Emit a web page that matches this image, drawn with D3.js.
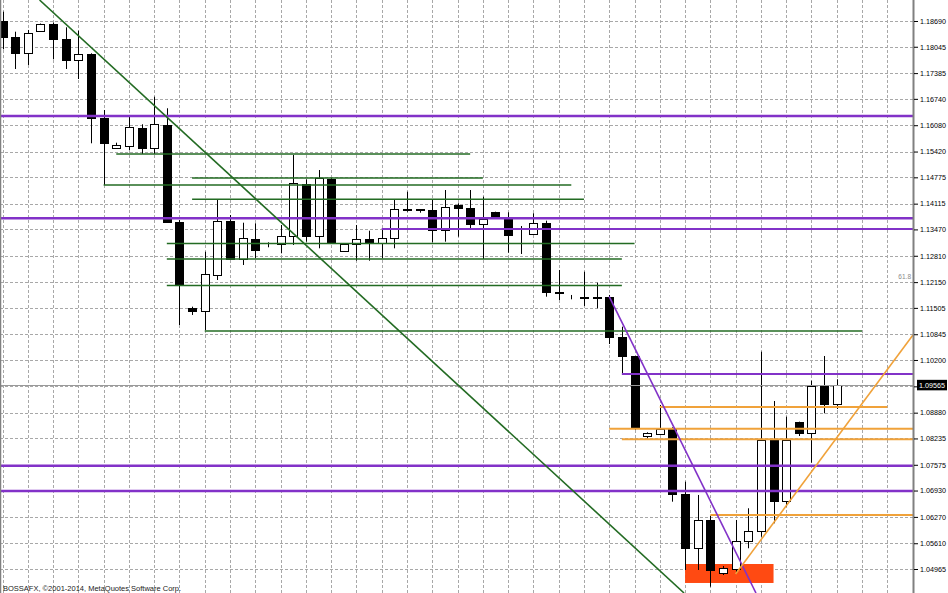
<!DOCTYPE html>
<html><head><meta charset="utf-8">
<script src="https://cdn.jsdelivr.net/npm/d3@7"></script>
<style>html,body{margin:0;padding:0;background:#fff;overflow:hidden}svg{display:block}</style>
</head><body>
<svg id="c" width="948" height="593"></svg>
<script>
// ---- data (daily candles) ----
const openP = [1.18698,1.18282,1.17881,1.18447,1.18607,1.18247,1.17713,1.17856,1.16253,1.15502,
1.15567,1.16018,1.15517,1.16085,1.13663,1.11495,1.11434,1.12329,1.13681,1.12729,
1.13230,1.13080,1.13105,1.13313,1.14600,1.13313,1.14733,1.12930,1.13097,1.13223,
1.13123,1.13263,1.13974,1.13974,1.13956,1.13456,1.14082,1.13999,1.13598,1.13914,
1.13774,1.13355,1.13355,1.13623,1.11910,1.11770,1.11770,1.11770,1.11785,1.10783,
1.10300,1.08304,1.08346,1.08464,1.06844,1.05484,1.06193,1.04873,1.04958,1.05674,
1.05917,1.08196,1.06668,1.08655,1.08379,1.09556,1.09098];
const highP = [1.18923,1.18422,1.18465,1.18627,1.18647,1.18532,1.18447,1.17881,1.16461,1.15642,
1.16336,1.16103,1.16794,1.16504,1.13706,1.11535,1.12912,1.14224,1.13831,1.13638,
1.13623,1.13148,1.13581,1.15334,1.14725,1.14958,1.14765,1.13097,1.13581,1.13438,
1.13498,1.14207,1.14415,1.13974,1.14207,1.14457,1.14124,1.14457,1.14290,1.13914,
1.13899,1.13556,1.13874,1.13689,1.12454,1.11828,1.12411,1.12136,1.11828,1.11034,
1.10300,1.08389,1.09073,1.08514,1.07152,1.06819,1.06293,1.05040,1.06193,1.06486,
1.10408,1.09173,1.08780,1.08655,1.09681,1.10300,1.09716];
const lowP = [1.17981,1.17488,1.17588,1.18440,1.17731,1.17488,1.17237,1.15627,1.14583,1.15484,
1.15459,1.15359,1.15359,1.13643,1.11076,1.11327,1.10951,1.12203,1.12717,1.12579,
1.12747,1.13022,1.12872,1.13080,1.13163,1.12997,1.13123,1.12930,1.12687,1.12687,
1.12747,1.12997,1.13914,1.13889,1.13148,1.13163,1.13288,1.13481,1.12729,1.13764,
1.12887,1.12855,1.13330,1.11785,1.11702,1.11720,1.11552,1.11495,1.10600,1.09867,
1.08447,1.08239,1.08334,1.06651,1.04940,1.04940,1.04522,1.04815,1.04858,1.05484,
1.05774,1.06110,1.06526,1.08296,1.07628,1.08865,1.08973];
const closeP = [1.18282,1.17881,1.18382,1.18615,1.18247,1.17713,1.17856,1.16253,1.15642,1.15584,
1.16028,1.15517,1.16103,1.13663,1.12078,1.11434,1.12346,1.13681,1.12729,1.13263,
1.12955,1.13068,1.13313,1.14640,1.13313,1.14750,1.13163,1.13097,1.13223,1.13138,
1.13263,1.13974,1.13967,1.13956,1.13456,1.14039,1.13999,1.13598,1.13731,1.13764,
1.13330,1.13343,1.13623,1.11910,1.11870,1.11765,1.11763,1.11763,1.10783,1.10300,
1.08489,1.08364,1.08464,1.06844,1.05484,1.06193,1.04940,1.04983,1.05674,1.05917,
1.08196,1.06668,1.08196,1.08379,1.09556,1.09098,1.09565];

const tickValues = [1.18690,1.18045,1.17385,1.16740,1.16080,1.15420,1.14775,1.14115,1.13470,1.12810,
1.12150,1.11505,1.10845,1.10200,1.09540,1.08880,1.08235,1.07575,1.06930,1.06270,1.05610,1.04965];
const gridValues = tickValues.concat([1.04305]);
const currentPrice = 1.09565;
const fibLabel = "61.8";
const fibPrice = 1.12150;

// horizontal levels: [fromBar, toBar (null = right edge), price]
const purpleFull = [1.16311, 1.13749, 1.07552, 1.06919];
const purplePartial = [[30, null, 1.13481], [49, null, 1.09849]];
const greenLevels = [[9,37,1.15359],[15,38,1.14758],[8,45,1.14583],[15,46,1.14224],
                     [13,50,1.13117],[13,49,1.12729],[13,49,1.12066],[16,68,1.10926]];
const orangeLevels = [[52,70,1.09023],[48,null,1.08479],[49,null,1.08214],[56,null,1.06318]];
// trend lines: [[bar, price],[bar, price]]
const greenTrend = [[2.93, 1.19216],[53.92, 1.04364]];
const purpleTrend = [[48, 1.11785],[59.61, 1.04364]];
const orangeTrend = [[58, 1.04840],[72.03, 1.10826]];
// rectangle zone: [fromBar, toBar, priceTop, priceBottom]
const zone = [54, 61, 1.05090, 1.04615];
const footer = "BOSSAFX, \u00A92001-2014, MetaQuotes Software Corp.";

// ---- drawing ----
const W = 948, H = 593, plotRight = 913;
const svg = d3.select('#c');
const x = d3.scaleLinear().domain([0, 72]).range([2.5, 2.5 + 12.64 * 72]);
const y = d3.scaleLinear().domain([1.18690, 1.04965]).range([21, 569]);
const px = v => Math.round(v) + 0.5;
const bars = d3.range(openP.length).map(i => ({i, o: openP[i], h: highP[i], l: lowP[i], c: closeP[i]}));

// grid
const grid = svg.append('g');
grid.selectAll('line.h').data(gridValues).join('line').attr('class','h')
  .attr('x1', 0).attr('x2', plotRight)
  .attr('y1', d => px(y(d))).attr('y2', d => px(y(d)))
  .attr('stroke', '#a8a8a8').attr('stroke-dasharray', '3,2');
grid.selectAll('line.v').data(d3.range(0, 72, 2)).join('line').attr('class','v')
  .attr('x1', d => px(x(d))).attr('x2', d => px(x(d)))
  .attr('y1', 0).attr('y2', H)
  .attr('stroke', '#a8a8a8').attr('stroke-dasharray', '3,2');

// zone rectangle (background object)
svg.append('rect')
  .attr('x', x(zone[0])).attr('width', x(zone[1]) - x(zone[0]))
  .attr('y', y(zone[2])).attr('height', y(zone[3]) - y(zone[2]))
  .attr('fill', '#ff4a12');

// candles
const cg = svg.append('g');
cg.selectAll('line.w').data(bars).join('line').attr('class','w')
  .attr('x1', d => px(x(d.i))).attr('x2', d => px(x(d.i)))
  .attr('y1', d => y(d.h)).attr('y2', d => y(d.l))
  .attr('stroke', '#000').attr('stroke-width', 1);
cg.selectAll('rect').data(bars).join('rect')
  .attr('x', d => Math.round(x(d.i)) - 3.5)
  .attr('width', 8)
  .attr('y', d => Math.round(y(Math.max(d.o, d.c))) + 0.5)
  .attr('height', d => Math.max(0, Math.round(y(Math.min(d.o, d.c))) - Math.round(y(Math.max(d.o, d.c)))))
  .attr('fill', d => d.c >= d.o ? '#fff' : '#000')
  .attr('stroke', '#000').attr('stroke-width', 1);

// bid line
svg.append('line').attr('x1', 0).attr('x2', plotRight)
  .attr('y1', px(y(currentPrice))).attr('y2', px(y(currentPrice)))
  .attr('stroke', '#9a9a9a').attr('stroke-width', 1);

const lg = svg.append('g').attr('fill', 'none');
function hline(arr, color, w) {
  lg.selectAll(null).data(arr).join('line')
    .attr('x1', d => d[0] == null ? 0 : x(d[0]))
    .attr('x2', d => d[1] == null ? plotRight : x(d[1]))
    .attr('y1', d => y(d[2])).attr('y2', d => y(d[2]))
    .attr('stroke', color).attr('stroke-width', w);
}
hline(greenLevels, '#236b23', 1.6);
hline(orangeLevels, '#f0a23a', 2);
hline(purpleFull.map(p => [null, null, p]), '#8232c8', 2.6);
hline(purplePartial, '#8232c8', 2);

function tline(pts, color, w) {
  lg.append('line')
    .attr('x1', x(pts[0][0])).attr('y1', y(pts[0][1]))
    .attr('x2', x(pts[1][0])).attr('y2', y(pts[1][1]))
    .attr('stroke', color).attr('stroke-width', w);
}
tline(greenTrend, '#236b23', 1.6);
tline(purpleTrend, '#8232c8', 1.6);
tline(orangeTrend, '#f0a23a', 1.6);

// fib label
svg.append('text').attr('x', 911).attr('y', y(fibPrice) - 3)
  .attr('text-anchor', 'end').attr('font-family', 'Liberation Sans, Arial, sans-serif')
  .attr('font-size', 6.5).attr('fill', '#8a8a8a').text(fibLabel);

// right price axis
svg.append('rect').attr('x', plotRight + 1).attr('y', 0).attr('width', W - plotRight).attr('height', H).attr('fill', '#fff');
svg.append('line').attr('x1', plotRight + 0.5).attr('x2', plotRight + 0.5).attr('y1', 0).attr('y2', H)
  .attr('stroke', '#808080').attr('stroke-width', 2);
svg.append('line').attr('x1', 0.5).attr('x2', 0.5).attr('y1', 0).attr('y2', H)
  .attr('stroke', '#808080').attr('stroke-width', 1.5);
const axis = d3.axisRight(y).tickValues(tickValues).tickSize(4).tickPadding(2)
  .tickFormat(d => d.toFixed(5));
const ag = svg.append('g').attr('transform', `translate(${plotRight + 1},0)`).call(axis);
ag.select('.domain').remove();
ag.selectAll('text').attr('font-family', 'Liberation Sans, Arial, sans-serif').attr('font-size', 7.2).attr('fill', '#000');
ag.selectAll('line').attr('stroke', '#000');

// current price box
const cy = y(currentPrice);
svg.append('rect').attr('x', 917).attr('y', cy - 5.5).attr('width', 30).attr('height', 10.5).attr('fill', '#000');
svg.append('text').attr('x', 919).attr('y', cy + 2.6)
  .attr('font-family', 'Liberation Sans, Arial, sans-serif').attr('font-size', 7.2)
  .attr('fill', '#fff').text(currentPrice.toFixed(5));

// footer
svg.append('text').attr('x', 3).attr('y', 591)
  .attr('font-family', 'Liberation Sans, Arial, sans-serif').attr('font-size', 7.5)
  .attr('fill', '#222').text(footer);
</script>
</body></html>
